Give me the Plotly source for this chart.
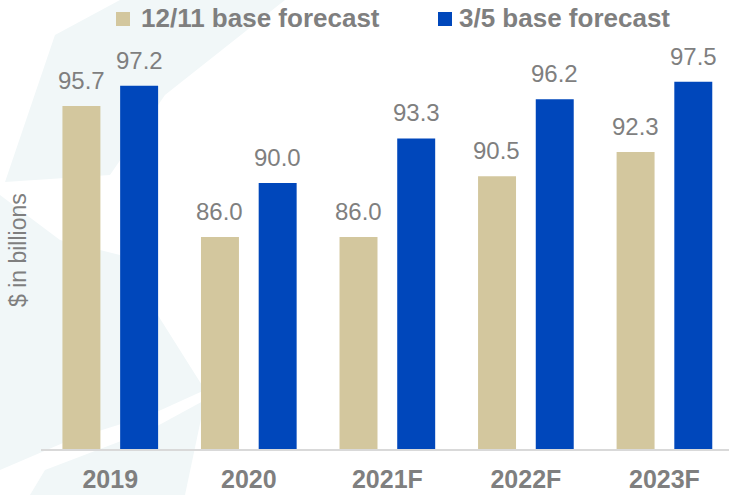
import plotly.graph_objects as go

# Chart data
categories = ["2019", "2020", "2021F", "2022F", "2023F"]
series_names = ["12/11 base forecast", "3/5 base forecast"]
base_dec = [95.7, 86.0, 86.0, 90.5, 92.3]
base_mar = [97.2, 90.0, 93.3, 96.2, 97.5]

colors = ["#D3C79E", "#0047BB"]
label_gray = "#7F7F7F"
font_family = "Liberation Sans, Arial, sans-serif"

W, H = 729, 495
M_L, M_R, M_T, M_B = 41, 0, 48, 46
plot_w = W - M_L - M_R
plot_h = H - M_T - M_B


def px_to_paper(px, py):
    return ((px - M_L) / plot_w, (H - M_B - py) / plot_h)


fig = go.Figure()

# faint decorative background panels
panels = [
    [(55, 35), (120, 0), (285, 0), (165, 95), (110, 175), (5, 182)],
    [(0, 195), (60, 240), (120, 255), (205, 390), (150, 415), (70, 440), (0, 470)],
    [(45, 470), (150, 430), (205, 400), (185, 495), (30, 495)],
]
for poly in panels:
    pts = [px_to_paper(x, y) for x, y in poly]
    path = "M " + " L ".join(f"{x:.4f},{y:.4f}" for x, y in pts) + " Z"
    fig.add_shape(type="path", path=path, xref="paper", yref="paper",
                  fillcolor="#F1F7F8", line=dict(width=0), layer="below")

for name, vals, col in zip(series_names, [base_dec, base_mar], colors):
    fig.add_trace(go.Bar(
        x=categories, y=vals, name=name,
        marker=dict(color=col, line=dict(width=0)),
        hoverinfo="skip", showlegend=False,
    ))

# value labels above each bar
bar_offset_px = 29
for vals, sign in [(base_dec, -1), (base_mar, 1)]:
    for i, v in enumerate(vals):
        fig.add_annotation(
            x=i, y=v, xref="x", yref="y", text=f"{v:.1f}", showarrow=False,
            xshift=sign * bar_offset_px, yshift=10, yanchor="bottom",
            font=dict(family=font_family, size=24, color=label_gray),
        )

# legend: colour swatch + bold caption for each series
legend_items = [(116, 139), (438, 457)]
for (sq_x, tx_x), name, col in zip(legend_items, series_names, colors):
    x0, y0 = px_to_paper(sq_x, 26)
    x1, y1 = px_to_paper(sq_x + 14, 12)
    fig.add_shape(type="rect", xref="paper", yref="paper",
                  x0=x0, y0=y0, x1=x1, y1=y1,
                  fillcolor=col, line=dict(width=0))
    tx, ty = px_to_paper(tx_x, 18)
    fig.add_annotation(
        x=tx, y=ty, xref="paper", yref="paper", text=f"<b>{name}</b>",
        showarrow=False, xanchor="left", yanchor="middle",
        font=dict(family=font_family, size=26, color=label_gray),
    )

# y-axis caption
cx, cy = px_to_paper(18, 250)
fig.add_annotation(
    x=cx, y=cy, xref="paper", yref="paper", text="$ in billions",
    textangle=-90, showarrow=False, xanchor="center", yanchor="middle",
    font=dict(family=font_family, size=23, color=label_gray),
)

fig.update_layout(
    width=W, height=H,
    margin=dict(l=M_L, r=M_R, t=M_T, b=M_B, pad=0, autoexpand=False),
    paper_bgcolor="white", plot_bgcolor="rgba(0,0,0,0)",
    barmode="group", bargap=0.167, bargroupgap=0.342,
    showlegend=False,
    xaxis=dict(
        range=[-0.5, 4.466], showgrid=False, zeroline=False,
        showline=True, linecolor="#D9D9D9", linewidth=2,
        ticks="", ticklabelstandoff=7,
        tickfont=dict(family=font_family, size=25, color=label_gray, weight="bold"),
    ),
    yaxis=dict(
        range=[70.3, 100], showgrid=False, zeroline=False,
        showticklabels=False, showline=False, ticks="",
    ),
)

fig.write_html("out.html")
